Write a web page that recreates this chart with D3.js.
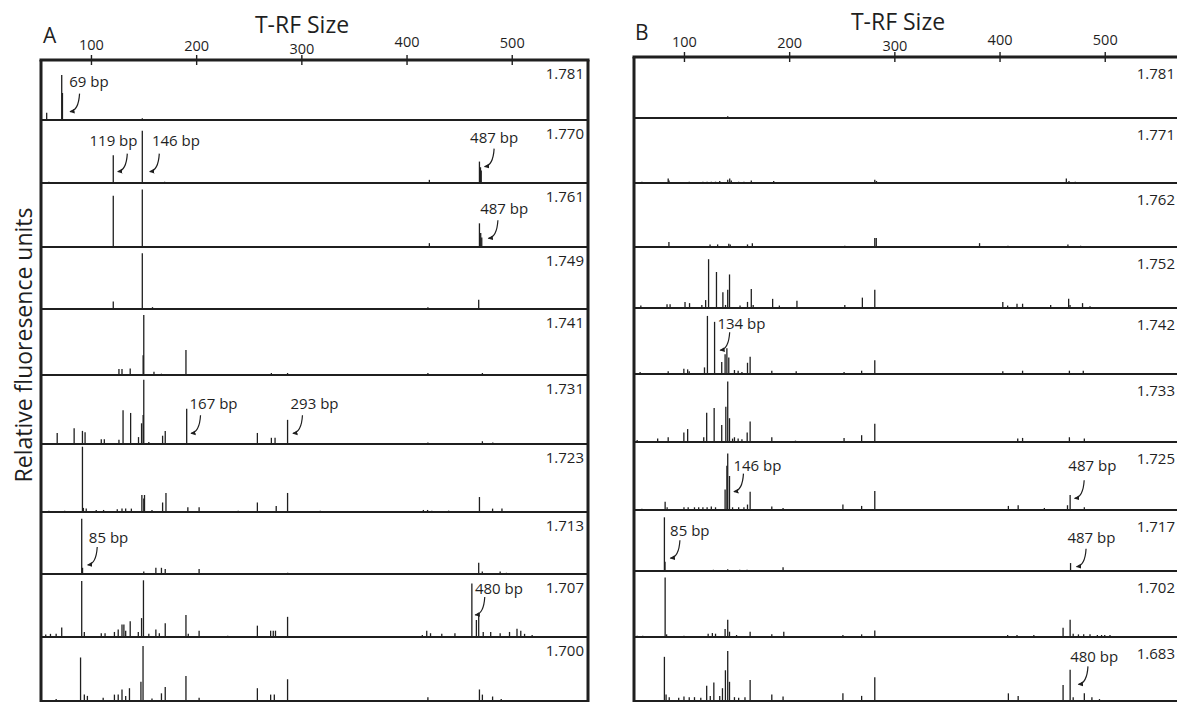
<!DOCTYPE html>
<html><head><meta charset="utf-8">
<script src="https://cdn.jsdelivr.net/npm/d3@7"></script>
<style>
html,body{margin:0;padding:0;background:#fff;}
svg{display:block;font-family:"Open Sans","Noto Sans",sans-serif;}
</style></head><body>
<svg id="chart" width="1177" height="702"></svg>
<script>
// ---------------- data ----------------
const tickValues = [100, 200, 300, 400, 500];
const axisTitle = "T-RF Size";
const yTitle = "Relative fluoresence units";
const panelNames = ["A", "B"];
const rowLabelsA = ["1.781","1.770","1.761","1.749","1.741","1.731","1.723","1.713","1.707","1.700"];
const rowLabelsB = ["1.781","1.771","1.762","1.752","1.742","1.733","1.725","1.717","1.702","1.683"];

// peaks: [size (bp, as read on the axis), relative height 0..1 of the row]
const peaksA = [
  [[57.9,0.12],[72.2,0.75],[72.9,0.45],[100,0.01],[148.8,0.03]],
  [[60,0.02],[121.2,0.44],[148.8,0.83],[170,0.02],[421.7,0.05],[469.3,0.34],[470.3,0.25],[471,0.2]],
  [[121.2,0.8],[148.8,0.9],[421.7,0.06],[469.3,0.37],[470.5,0.22],[471.5,0.15]],
  [[121.2,0.12],[148.8,0.9],[158.5,0.03],[420.3,0.03],[468.6,0.15]],
  [[126.6,0.09],[129.5,0.09],[137.3,0.1],[149.6,0.3],[150.2,0.91],[159.9,0.05],[167,0.02],[190.3,0.38],[271.5,0.03],[286.9,0.03],[420.3,0.03],[472.1,0.03]],
  [[67.9,0.16],[84,0.23],[91.9,0.19],[94.4,0.17],[109.8,0.07],[112.7,0.07],[126.6,0.06],[130.5,0.49],[137.7,0.45],[145.2,0.1],[148.1,0.3],[149.6,0.42],[150.2,0.93],[155,0.03],[168.1,0.12],[170.6,0.19],[191,0.51],[258.2,0.16],[271.5,0.09],[275,0.09],[286.9,0.35],[420.3,0.02],[472.1,0.04],[482,0.02]],
  [[60,0.02],[75,0.02],[91.9,0.96],[92.8,0.06],[95.5,0.05],[105,0.03],[112,0.03],[125,0.04],[129.5,0.05],[133,0.05],[138.4,0.05],[148.4,0.25],[150.2,0.2],[150.9,0.25],[158,0.03],[168.1,0.14],[171.3,0.28],[192.1,0.07],[202.8,0.07],[240,0.02],[258.2,0.14],[276.1,0.09],[286.9,0.28],[318,0.02],[416,0.03],[420,0.03],[424,0.02],[440,0.02],[469.3,0.22],[481.8,0.05],[490.7,0.05]],
  [[70,0.01],[91.2,0.89],[92,0.1],[150.2,0.04],[161.7,0.1],[167,0.1],[170.6,0.08],[202.8,0.08],[287,0.02],[468.6,0.18],[472,0.04],[489,0.04],[495,0.02]],
  [[57,0.04],[61.5,0.05],[66.9,0.05],[72.2,0.15],[91.2,0.89],[93.7,0.08],[109.8,0.06],[113.4,0.06],[122.3,0.08],[125.9,0.12],[129.5,0.2],[131.3,0.2],[133,0.1],[137.3,0.25],[145,0.08],[148.1,0.3],[149.9,0.9],[155,0.05],[161.7,0.12],[165,0.06],[170.6,0.22],[190.3,0.35],[192.5,0.05],[202.8,0.1],[230,0.02],[258.2,0.18],[270.8,0.1],[273.3,0.1],[275.4,0.1],[286.9,0.32],[308.3,0.01],[367.3,0.01],[415,0.03],[419.2,0.1],[422.8,0.06],[433.5,0.05],[446,0.06],[462.1,0.85],[466.4,0.27],[468.6,0.38],[472.9,0.08],[480,0.08],[489,0.06],[497.9,0.08],[505,0.13],[508.6,0.1],[512.2,0.05],[519.4,0.03],[540,0.01]],
  [[66.9,0.03],[90.1,0.68],[93.7,0.1],[96.6,0.08],[111.6,0.05],[122.3,0.1],[125.9,0.1],[129.5,0.18],[133,0.08],[136.6,0.2],[147.5,0.3],[149.5,0.86],[158,0.04],[167,0.12],[170.6,0.22],[190.3,0.39],[202.8,0.05],[258.2,0.2],[270.8,0.1],[274.3,0.1],[286.9,0.34],[420.3,0.06],[469.3,0.18],[472.1,0.1],[481.8,0.07],[490,0.03]]
];
const peaksB = [
  [[130,0.01],[141.6,0.03],[250,0.01]],
  [[60,0.02],[85,0.07],[85.8,0.04],[105,0.02],[110,0.015],[118,0.02],[122,0.02],[126,0.02],[130,0.02],[134,0.03],[141.6,0.05],[143.5,0.07],[145,0.04],[152,0.02],[157,0.02],[164,0.04],[185.3,0.03],[190,0.015],[250,0.015],[255,0.015],[262,0.015],[281.4,0.05],[283,0.03],[400,0.015],[408,0.015],[418,0.015],[430,0.015],[440,0.015],[452,0.015],[463.5,0.07],[466,0.03],[472,0.02],[480,0.015],[496,0.01]],
  [[85.7,0.08],[124.8,0.04],[132,0.04],[142.6,0.05],[144,0.04],[160.4,0.04],[165,0.06],[252.9,0.02],[281.4,0.14],[282.8,0.14],[381,0.06],[408,0.02],[465,0.04],[477,0.02]],
  [[59,0.04],[83.9,0.06],[86.8,0.06],[101,0.1],[105.3,0.08],[117,0.05],[120.6,0.13],[123.4,0.8],[130.9,0.59],[137,0.26],[139.5,0.05],[141.6,0.3],[143.3,0.55],[153.3,0.04],[160.4,0.1],[164,0.31],[165.8,0.05],[184.3,0.15],[190.7,0.04],[207.4,0.12],[252.9,0.05],[269.6,0.17],[281.4,0.3],[403.1,0.1],[407.7,0.04],[416.6,0.07],[421.9,0.07],[448.6,0.05],[465.7,0.15],[467,0.05],[478.9,0.08],[486,0.03]],
  [[58.3,0.03],[85,0.04],[99.9,0.08],[103.5,0.07],[105,0.04],[119.5,0.1],[122.3,0.88],[129.1,0.79],[135.9,0.18],[139.1,0.3],[140.8,0.39],[142.6,0.25],[148,0.06],[151.5,0.05],[155.1,0.03],[160.4,0.17],[162.9,0.26],[183.5,0.05],[206.7,0.04],[252.2,0.03],[268.9,0.05],[281.4,0.21],[403.1,0.04],[421.9,0.05],[466.4,0.05],[479.6,0.05]],
  [[55.5,0.03],[75,0.05],[85,0.07],[99.9,0.14],[103.5,0.19],[118.8,0.07],[121.6,0.43],[128.7,0.5],[135.9,0.25],[139.8,0.52],[141.6,0.89],[143.3,0.35],[146.2,0.05],[148,0.07],[151.5,0.05],[155.1,0.04],[160.1,0.14],[162.9,0.3],[183.5,0.07],[206,0.02],[252.2,0.06],[268.9,0.1],[281.4,0.27],[417.3,0.05],[421.9,0.06],[466.4,0.07],[480.6,0.05]],
  [[60,0.02],[82.1,0.12],[84,0.04],[100,0.04],[104,0.04],[110,0.04],[114,0.04],[118,0.04],[122,0.04],[126,0.05],[130,0.04],[139.1,0.3],[140.8,0.65],[141.6,0.83],[143.3,0.5],[146.2,0.04],[152,0.04],[157,0.04],[160.4,0.08],[162.9,0.27],[183.5,0.05],[194.2,0.03],[251.1,0.08],[268.9,0.06],[281.4,0.28],[408.4,0.06],[417.7,0.07],[442.6,0.03],[464.6,0.07],[467.1,0.22],[480.6,0.04]],
  [[81.4,0.88],[82,0.15],[128,0.02],[141.6,0.03],[153,0.02],[160,0.02],[194.2,0.06],[281.4,0.01],[467.5,0.13]],
  [[55.5,0.02],[60.8,0.02],[82.1,0.9],[83.5,0.04],[100,0.02],[123,0.05],[127,0.06],[130,0.05],[139.1,0.12],[141.6,0.26],[143.3,0.08],[150,0.03],[162.9,0.08],[183.5,0.04],[194.9,0.08],[251.1,0.03],[268.9,0.04],[281.4,0.1],[407.7,0.03],[416.6,0.03],[432.6,0.03],[460.4,0.14],[467.1,0.26],[470,0.05],[475,0.04],[480,0.04],[486,0.04],[493,0.03],[497,0.03],[500,0.03],[505,0.03]],
  [[81.4,0.69],[83,0.1],[86,0.06],[95,0.05],[100,0.07],[105,0.06],[110,0.06],[116,0.05],[121.6,0.24],[125,0.08],[128.4,0.29],[134,0.08],[136.6,0.2],[139.4,0.48],[141.6,0.78],[143.3,0.3],[148,0.06],[152,0.05],[158,0.06],[162.9,0.33],[183.5,0.1],[194.2,0.07],[251.1,0.12],[268.9,0.08],[281.4,0.37],[408.4,0.12],[417.7,0.08],[460.4,0.25],[467.1,0.49],[470,0.06],[480.6,0.12],[487.8,0.06],[495,0.03]]
];

// annotations: row index, label, text anchor (bp, rel. height), arrow tip (bp, rel. height)
const annotationsA = [
  {row:0, label:"69 bp",  textBp:79.3,  textH:0.55,  tipBp:78.7,  tipH:0.14},
  {row:1, label:"119 bp", textBp:98.6,  textH:0.587, tipBp:124.1, tipH:0.18},
  {row:1, label:"146 bp", textBp:158,   textH:0.587, tipBp:154.5, tipH:0.18},
  {row:1, label:"487 bp", textBp:460.4, textH:0.635, tipBp:472.8, tipH:0.26},
  {row:2, label:"487 bp", textBp:470,   textH:0.516, tipBp:476.4, tipH:0.136},
  {row:5, label:"167 bp", textBp:193.7, textH:0.507, tipBp:193.7, tipH:0.155},
  {row:5, label:"293 bp", textBp:289.7, textH:0.507, tipBp:290.6, tipH:0.155},
  {row:7, label:"85 bp",  textBp:98,    textH:0.5,   tipBp:95.5,  tipH:0.145},
  {row:8, label:"480 bp", textBp:465,   textH:0.683, tipBp:463.9, tipH:0.35}
];
const annotationsB = [
  {row:4, label:"134 bp", textBp:131.8, textH:0.68,  tipBp:133,   tipH:0.36},
  {row:6, label:"146 bp", textBp:147,   textH:0.574, tipBp:146.1, tipH:0.27},
  {row:6, label:"487 bp", textBp:465.4, textH:0.574, tipBp:470,   tipH:0.172},
  {row:7, label:"85 bp",  textBp:86.8,  textH:0.574, tipBp:85.7,  tipH:0.21},
  {row:7, label:"487 bp", textBp:464.5, textH:0.46,  tipBp:471.8, tipH:0.07},
  {row:9, label:"480 bp", textBp:467.1, textH:0.615, tipBp:473.6, tipH:0.26}
];

// ---------------- layout ----------------
const INK = "#1f1f1f";
const FONT = '"Open Sans","Noto Sans",sans-serif';
const bpDomain = [52.5, 572.5];
const panels = [
  {name:panelNames[0], left:41, width:547, edges:[60,120,183,247,309,375,444,512,574,637,701],
   titleX:302, titleY:33, letterX:43, letterY:43, labelDy:18.5, labelInset:4,
   tickDy:[0, 1, 4, -3, -2],
   labels:rowLabelsA, peaks:peaksA, notes:annotationsA},
  {name:panelNames[1], left:634, width:547, edges:[57,118,183,247,308,374,442,510,571,637,701],
   titleX:898, titleY:30, letterX:635, letterY:40, labelDy:21.5, labelInset:6,
   tickDy:[0, 1, 4, -2, -2],
   labels:rowLabelsB, peaks:peaksB, notes:annotationsB}
];

const svg = d3.select("#chart");
const defs = svg.append("defs");
defs.append("marker").attr("id","arrow").attr("viewBox","0 -4 8 8")
  .attr("refX",6).attr("refY",0).attr("markerWidth",6).attr("markerHeight",6)
  .attr("markerUnits","userSpaceOnUse").attr("orient","auto")
  .append("path").attr("d","M0,-3.2L7,0L0,3.2Z").attr("fill",INK);

panels.forEach(p => {
  const g = svg.append("g");
  const x = d3.scaleLinear().domain(bpDomain).range([p.left, p.left + p.width]);
  const top = p.edges[0], bottom = p.edges[p.edges.length - 1];
  const rowY = i => d3.scaleLinear().domain([0, 1]).range([p.edges[i + 1], p.edges[i]]);

  // peaks
  p.peaks.forEach((row, i) => {
    const y = rowY(i);
    g.append("g").selectAll("line").data(row).join("line")
      .attr("x1", d => x(d[0])).attr("x2", d => x(d[0]))
      .attr("y1", y(0)).attr("y2", d => y(d[1]))
      .attr("stroke", INK).attr("stroke-width", 1.3);
  });

  // row baselines / separators
  g.append("g").selectAll("line").data(p.edges.slice(1)).join("line")
    .attr("x1", p.left).attr("x2", p.left + p.width)
    .attr("y1", d => d).attr("y2", d => d)
    .attr("stroke", INK).attr("stroke-width", 2);

  // row labels
  g.append("g").selectAll("text").data(p.labels).join("text")
    .attr("x", p.left + p.width - p.labelInset)
    .attr("y", (d, i) => p.edges[i] + p.labelDy)
    .attr("text-anchor", "end").attr("font-size", 15).attr("fill", INK)
    .text(d => d);

  // frame
  g.append("line").attr("x1", p.left - 1.5).attr("x2", p.left + p.width + 1.5)
    .attr("y1", top).attr("y2", top).attr("stroke", INK).attr("stroke-width", 3);
  g.append("line").attr("x1", p.left).attr("x2", p.left)
    .attr("y1", top).attr("y2", bottom + 2).attr("stroke", INK).attr("stroke-width", 3);
  g.append("line").attr("x1", p.left + p.width).attr("x2", p.left + p.width)
    .attr("y1", top).attr("y2", bottom + 2).attr("stroke", INK).attr("stroke-width", 3);

  // top axis
  const axis = d3.axisTop(x).tickValues(tickValues).tickSize(10).tickPadding(5).tickFormat(d3.format("d"));
  const ag = g.append("g").attr("transform", `translate(0,${top + 5})`).call(axis);
  ag.select(".domain").remove();
  ag.selectAll(".tick line").attr("stroke", INK).attr("stroke-width", 1.4);
  ag.selectAll(".tick text").attr("font-size", 14.5).attr("fill", INK)
    .attr("font-family", FONT)
    .attr("transform", (d, i) => `translate(0,${p.tickDy[i]})`);

  // titles
  g.append("text").attr("x", p.titleX).attr("y", p.titleY).attr("text-anchor", "middle")
    .attr("font-size", 23).attr("fill", INK).text(axisTitle);
  g.append("text").attr("x", p.letterX).attr("y", p.letterY)
    .attr("font-size", 21).attr("fill", INK).text(p.name);

  // annotations
  p.notes.forEach(n => {
    const y = rowY(n.row);
    g.append("text").attr("x", x(n.textBp)).attr("y", y(n.textH))
      .attr("font-size", 15).attr("fill", INK).text(n.label);
    const ex = x(n.tipBp), ey = y(n.tipH);
    const sx = ex + 11, sy = ey - 18;
    const path = d3.path();
    path.moveTo(sx, sy);
    path.quadraticCurveTo(sx - 1, ey - 1, ex + 1.5, ey);
    g.append("path").attr("d", path.toString()).attr("fill", "none")
      .attr("stroke", INK).attr("stroke-width", 1.2).attr("marker-end", "url(#arrow)");
  });
});

// y title
svg.append("text").attr("transform", "translate(32,345) rotate(-90)")
  .attr("text-anchor", "middle").attr("font-size", 23).attr("fill", INK).text(yTitle);
</script>
</body></html>
